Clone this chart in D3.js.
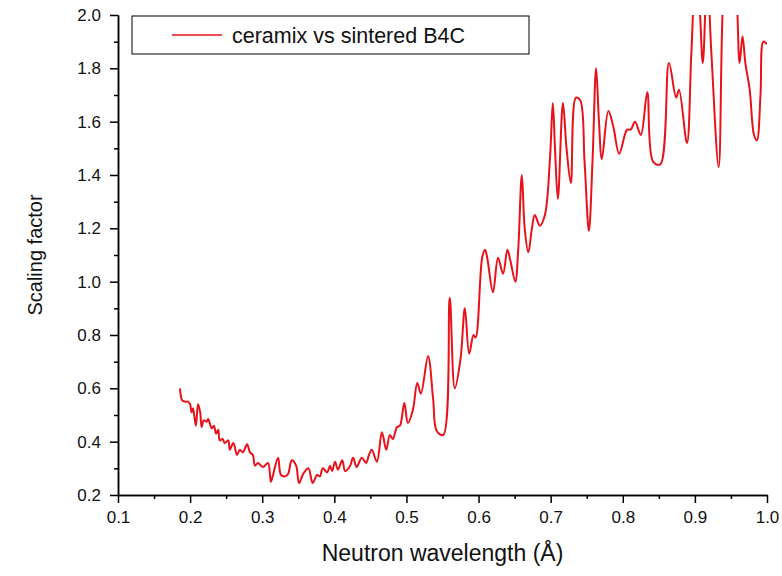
<!DOCTYPE html>
<html>
<head>
<meta charset="utf-8">
<script src="https://cdn.jsdelivr.net/npm/d3@7"></script>
<style>
  html, body { margin: 0; padding: 0; background: #fff; }
  svg { display: block; font-family: Arial, "Liberation Sans", sans-serif; }
</style>
</head>
<body>
<svg id="chart" width="782" height="576"></svg>
<script>
const wavelength = [
  0.186,0.189,0.193,0.197,0.200,0.202,0.204,0.208,0.211,0.214,0.216,0.219,0.223,0.225,0.230,0.233,0.236,0.239,0.241,0.245,
  0.248,0.253,0.255,0.260,0.265,0.269,0.273,0.279,0.283,0.287,0.290,0.294,0.301,0.308,0.312,0.315,0.322,0.326,0.332,0.336,
  0.341,0.347,0.351,0.357,0.364,0.370,0.376,0.380,0.384,0.390,0.394,0.397,0.401,0.405,0.411,0.415,0.422,0.426,0.431,0.438,
  0.444,0.448,0.452,0.459,0.466,0.472,0.477,0.481,0.487,0.491,0.497,0.502,0.509,0.515,0.520,0.530,0.537,0.542,0.551,0.560,
  0.567,0.575,0.581,0.587,0.593,0.596,0.605,0.609,0.612,0.620,0.627,0.634,0.640,0.644,0.651,0.655,0.660,0.664,0.669,0.674,
  0.678,0.685,0.692,0.699,0.703,0.706,0.710,0.717,0.722,0.728,0.735,0.741,0.747,0.753,0.758,0.763,0.767,0.771,0.780,0.787,
  0.795,0.806,0.811,0.817,0.825,0.834,0.842,0.852,0.864,0.874,0.878,0.889,0.895,0.901,0.906,0.911,0.917,0.923,0.933,0.940,
  0.948,0.956,0.962,0.966,0.970,0.976,0.982,0.986,0.991,0.995,1.000
];
const scaling = [
  0.60,0.555,0.55,0.55,0.54,0.51,0.525,0.46,0.54,0.51,0.455,0.48,0.475,0.485,0.45,0.46,0.43,0.445,0.405,0.41,
  0.395,0.405,0.37,0.395,0.35,0.37,0.36,0.39,0.36,0.35,0.31,0.32,0.305,0.32,0.25,0.275,0.34,0.275,0.27,0.28,
  0.33,0.31,0.245,0.28,0.30,0.245,0.275,0.27,0.30,0.285,0.31,0.29,0.325,0.295,0.33,0.29,0.31,0.34,0.305,0.34,
  0.32,0.35,0.37,0.325,0.435,0.37,0.425,0.41,0.455,0.46,0.545,0.47,0.52,0.62,0.58,0.72,0.56,0.44,0.425,0.94,
  0.60,0.71,0.90,0.73,0.80,0.79,1.09,1.12,1.09,0.96,1.09,1.03,1.12,1.08,1.00,1.12,1.40,1.20,1.11,1.20,
  1.25,1.21,1.25,1.46,1.67,1.50,1.31,1.67,1.50,1.37,1.69,1.68,1.45,1.19,1.45,1.80,1.60,1.46,1.64,1.58,
  1.48,1.57,1.57,1.60,1.55,1.71,1.45,1.44,1.82,1.69,1.72,1.52,1.85,2.15,2.05,1.82,2.15,1.85,1.43,2.10,
  2.25,2.15,1.82,1.92,1.82,1.72,1.55,1.53,1.70,1.90,1.89
];
const xTicks = [0.1,0.2,0.3,0.4,0.5,0.6,0.7,0.8,0.9,1.0];
const xMinor = [0.15,0.25,0.35,0.45,0.55,0.65,0.75,0.85,0.95];
const yTicks = [0.2,0.4,0.6,0.8,1.0,1.2,1.4,1.6,1.8,2.0];
const yMinor = [0.3,0.5,0.7,0.9,1.1,1.3,1.5,1.7,1.9];
const seriesName = "ceramix vs sintered B4C";

const svg = d3.select("#chart");
const L = 118, R = 767, T = 15, B = 495;
const lineColor = "#e8121a";
const x = d3.scaleLinear().domain([0.1, 1.0]).range([L, R]);
const y = d3.scaleLinear().domain([0.2, 2.0]).range([B, T]);

svg.append("defs").append("clipPath").attr("id", "clip")
  .append("rect").attr("x", L).attr("y", T).attr("width", R - L).attr("height", B - T);

const data = wavelength.map((w, i) => [w, scaling[i]]);
const line = d3.line().x(d => x(d[0])).y(d => y(d[1])).curve(d3.curveCatmullRom.alpha(0.5));
svg.append("path").datum(data)
  .attr("clip-path", "url(#clip)")
  .attr("fill", "none").attr("stroke", lineColor).attr("stroke-width", 2)
  .attr("stroke-linejoin", "round")
  .attr("d", line);

function styleAxis(g) {
  g.select(".domain").attr("stroke", "#000").attr("stroke-width", 1.5);
  g.selectAll(".tick line").attr("stroke", "#000").attr("stroke-width", 1.5);
  g.selectAll("text").attr("fill", "#111").style("font-size", "17px");
}

// x axis
svg.append("g").attr("transform", `translate(0,${B})`)
  .call(d3.axisBottom(x).tickValues(xMinor).tickSize(4).tickSizeOuter(0).tickFormat(""))
  .call(styleAxis);
svg.append("g").attr("transform", `translate(0,${B})`)
  .call(d3.axisBottom(x).tickValues(xTicks).tickSize(8).tickSizeOuter(0).tickPadding(8).tickFormat(d3.format(".1f")))
  .call(styleAxis);

// y axis
svg.append("g").attr("transform", `translate(${L},0)`)
  .call(d3.axisLeft(y).tickValues(yMinor).tickSize(4).tickSizeOuter(0).tickFormat(""))
  .call(styleAxis);
svg.append("g").attr("transform", `translate(${L},0)`)
  .call(d3.axisLeft(y).tickValues(yTicks).tickSize(8).tickSizeOuter(0).tickPadding(9).tickFormat(d3.format(".1f")))
  .call(styleAxis);

// axis titles
svg.append("text").attr("x", (L + R) / 2).attr("y", 561)
  .attr("text-anchor", "middle").style("font-size", "23px").attr("fill", "#111")
  .text("Neutron wavelength (Å)");
svg.append("text").attr("transform", `translate(42,${(T + B) / 2}) rotate(-90)`)
  .attr("text-anchor", "middle").style("font-size", "20px").attr("fill", "#111")
  .text("Scaling factor");

// legend
const lg = svg.append("g");
lg.append("rect").attr("x", 132).attr("y", 16).attr("width", 397).attr("height", 38)
  .attr("fill", "#fff").attr("stroke", "#000").attr("stroke-width", 1);
lg.append("line").attr("x1", 172).attr("x2", 222).attr("y1", 35).attr("y2", 35)
  .attr("stroke", lineColor).attr("stroke-width", 1.6);
lg.append("text").attr("x", 232).attr("y", 43).style("font-size", "21.5px").attr("fill", "#111")
  .text(seriesName);
</script>
</body>
</html>
